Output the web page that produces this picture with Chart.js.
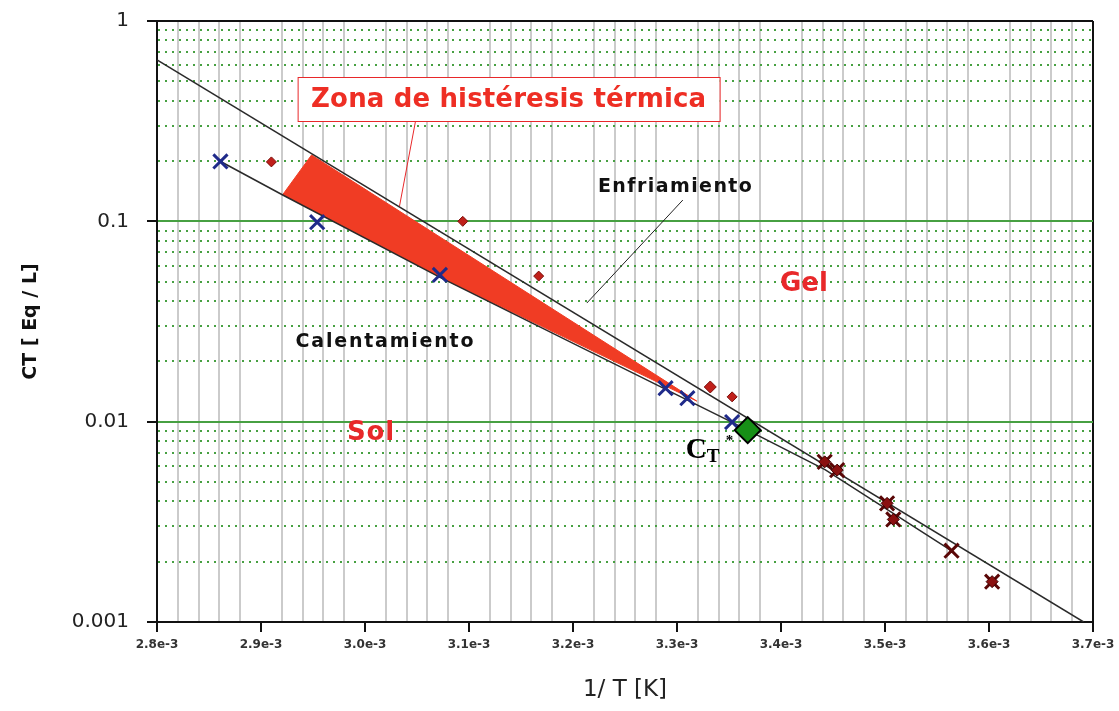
<!DOCTYPE html>
<html>
<head>
<meta charset="utf-8">
<script src="https://cdn.jsdelivr.net/npm/chart.js@4.4.1/dist/chart.umd.min.js"></script>
<style>
  html, body { margin: 0; padding: 0; background: #fff; }
  #wrap { width: 1119px; height: 711px; position: relative; }
</style>
</head>
<body>
<div id="wrap"><canvas id="chart"></canvas></div>
<script>
// heating run (blue crosses)
const heatX = [2.861e-3, 2.954e-3, 3.072e-3, 3.289e-3, 3.310e-3, 3.353e-3];
const heatY = [0.199, 0.099, 0.054, 0.0147, 0.0131, 0.00995];

// cooling run (red diamonds)
const coolX = [2.910e-3, 3.094e-3, 3.167e-3, 3.332e-3, 3.353e-3];
const coolY = [0.198, 0.100, 0.0533, 0.0149, 0.0133];

// points past the transition, both runs overlap
const lowX = [3.442e-3, 3.454e-3, 3.502e-3, 3.508e-3, 3.564e-3, 3.603e-3];
const lowY = [0.0063, 0.00573, 0.00391, 0.00325, 0.00227, 0.00159];

// critical point C_T*
const critX = [3.368e-3];
const critY = [0.00907];

// cooling fit line
const coolLineX = [2.8e-3, 3.691e-3];
const coolLineY = [0.639, 0.001];

// heating fit line
const heatLineX = [2.8616e-3, 2.9209e-3, 3.0717e-3, 3.3527e-3, 3.4423e-3, 3.5645e-3];
const heatLineY = [0.1984, 0.1353, 0.0527, 0.00995, 0.00576, 0.00226];

// hysteresis band outline
const bandX = [2.9206e-3, 2.9486e-3, 3.319e-3, 3.0717e-3];
const bandY = [0.1353, 0.2143, 0.01267, 0.0527];

// axis ticks
const xTickValues = [2.8e-3, 2.9e-3, 3.0e-3, 3.1e-3, 3.2e-3, 3.3e-3, 3.4e-3, 3.5e-3, 3.6e-3, 3.7e-3];
const xTickLabels = ["2.8e-3", "2.9e-3", "3.0e-3", "3.1e-3", "3.2e-3", "3.3e-3", "3.4e-3", "3.5e-3", "3.6e-3", "3.7e-3"];
const yTickValues = [0.001, 0.01, 0.1, 1];
const yTickLabels = ["0.001", "0.01", "0.1", "1"];

// text notes placed in data coordinates
const notes = [
  { text: "Enfriamiento", x: 3.298e-3, y: 0.1483, width: 154, size: 19, color: "#111" },
  { text: "Calentamiento", x: 3.0188e-3, y: 0.02496, width: 178, size: 19, color: "#111" },
  { text: "Gel", x: 3.422e-3, y: 0.0486, width: 48, size: 26, color: "#e8282a" },
  { text: "Sol", x: 3.0054e-3, y: 0.00877, width: 47, size: 26, color: "#e8282a" },
];

const zip = (xs, ys) => xs.map((x, i) => ({ x: x, y: ys[i] }));

const near = (a, b) => Math.abs(a - b) < Math.abs(b) * 1e-6;
const xMajor = (v) => xTickValues.findIndex((t) => near(v, t));
const yMajor = (v) => yTickValues.findIndex((t) => near(v, t));

// minor grid every 0.02e-3 on x, 1..9 per decade on y
const xGrid = [];
for (let i = 0; i <= 45; i++) xGrid.push(Number((2.8e-3 + i * 2e-5).toPrecision(6)));
const yGrid = [];
for (let e = -3; e < 0; e++) {
  for (let m = 1; m <= 9; m++) yGrid.push(Number((m * Math.pow(10, e)).toPrecision(3)));
}
yGrid.push(1);

function fitText(ctx, text, cx, cy, width, font) {
  ctx.font = font;
  ctx.letterSpacing = "0px";
  const w = ctx.measureText(text).width;
  const gap = text.length > 1 ? (width - w) / (text.length - 1) : 0;
  ctx.letterSpacing = gap + "px";
  ctx.textAlign = "left";
  ctx.textBaseline = "middle";
  ctx.fillText(text, cx - width / 2, cy);
  ctx.letterSpacing = "0px";
}

const notesPlugin = {
  id: "notes",
  afterDatasetsDraw(chart) {
    const { ctx, scales } = chart;
    const px = (v) => scales.x.getPixelForValue(v);
    const py = (v) => scales.y.getPixelForValue(v);
    ctx.save();

    // leader for the cooling label
    ctx.strokeStyle = "#222";
    ctx.lineWidth = 1;
    ctx.beginPath();
    ctx.moveTo(px(3.2133e-3), py(0.0391));
    ctx.lineTo(px(3.3056e-3), py(0.1277));
    ctx.stroke();

    // leader for the hysteresis box
    ctx.strokeStyle = "#e8282a";
    ctx.beginPath();
    ctx.moveTo(px(3.0486e-3), py(0.3167));
    ctx.lineTo(px(3.0332e-3), py(0.1192));
    ctx.stroke();

    // hysteresis box
    const bx = px(3.1381e-3), by = py(0.408);
    ctx.fillStyle = "#fff";
    ctx.fillRect(bx - 211, by - 22, 422, 44);
    ctx.strokeStyle = "#e8282a";
    ctx.lineWidth = 1;
    ctx.strokeRect(bx - 211 + 0.5, by - 22 + 0.5, 422, 44);
    ctx.fillStyle = "#ee2e24";
    fitText(ctx, "Zona de histéresis térmica", bx, by + 1, 395, "bold 26px 'DejaVu Sans'");

    notes.forEach((n) => {
      ctx.fillStyle = n.color;
      fitText(ctx, n.text, px(n.x), py(n.y), n.width, "bold " + n.size + "px 'DejaVu Sans'");
    });

    // C_T* label
    const cx = px(3.3085e-3), cy = py(0.00658);
    ctx.fillStyle = "#000";
    ctx.textAlign = "left";
    ctx.textBaseline = "alphabetic";
    ctx.font = "bold 29px 'Liberation Serif'";
    ctx.fillText("C", cx, cy);
    ctx.font = "bold 19px 'Liberation Serif'";
    ctx.fillText("T", cx + 21, cy + 4);
    ctx.font = "bold 15px 'Liberation Serif'";
    ctx.fillText("*", cx + 40, cy - 13);

    ctx.restore();
  },
};

new Chart(document.getElementById("chart"), {
  type: "scatter",
  data: {
    datasets: [
      {
        label: "C_T*",
        data: zip(critX, critY),
        pointStyle: "rectRot",
        pointRadius: 13,
        backgroundColor: "#178f17",
        borderColor: "#000",
        borderWidth: 2,
        order: 0,
      },
      {
        label: "Calentamiento",
        data: zip(heatX, heatY),
        pointStyle: "crossRot",
        pointRadius: 10,
        borderColor: "#1f2a8a",
        borderWidth: 3,
        order: 1,
      },
      {
        label: "Enfriamiento",
        data: zip(coolX, coolY),
        pointStyle: "rectRot",
        pointRadius: [5, 5, 5, 6, 5],
        backgroundColor: "#c0201a",
        borderColor: "#7a0c08",
        borderWidth: 1,
        order: 1,
      },
      {
        label: "Gel diamonds",
        data: zip(lowX, lowY),
        pointStyle: "rectRot",
        pointRadius: [6, 6, 6, 6, 0, 6],
        backgroundColor: "#8a1010",
        borderColor: "#3a0000",
        borderWidth: 1,
        order: 2,
      },
      {
        label: "Gel crosses",
        data: zip(lowX, lowY),
        pointStyle: "crossRot",
        pointRadius: 10,
        borderColor: "#5a0606",
        borderWidth: 3,
        order: 3,
      },
      {
        label: "Ajuste enfriamiento",
        data: zip(coolLineX, coolLineY),
        showLine: true,
        borderColor: "#2a2a2a",
        borderWidth: 1.5,
        pointRadius: 0,
        order: 5,
      },
      {
        label: "Ajuste calentamiento",
        data: zip(heatLineX, heatLineY),
        showLine: true,
        borderColor: "#2a2a2a",
        borderWidth: 1.5,
        pointRadius: 0,
        order: 5,
      },
      {
        label: "Zona de histéresis",
        data: zip(bandX, bandY),
        showLine: true,
        fill: "shape",
        backgroundColor: "#f03c24",
        borderColor: "#f03c24",
        borderWidth: 1,
        pointRadius: 0,
        order: 10,
      },
    ],
  },
  options: {
    responsive: true,
    maintainAspectRatio: false,
    animation: false,
    layout: { padding: { top: 21, right: 26, left: 0, bottom: 0 } },
    plugins: { legend: { display: false }, tooltip: { enabled: false } },
    scales: {
      x: {
        type: "linear",
        min: 2.8e-3,
        max: 3.7e-3,
        afterBuildTicks: (s) => { s.ticks = xGrid.map((v) => ({ value: v })); },
        afterFit: (s) => { s.height = 89; s.paddingLeft = 0; s.paddingRight = 0; },
        ticks: {
          autoSkip: false,
          maxRotation: 0,
          padding: 6,
          color: "#333",
          font: { family: "DejaVu Sans", size: 12, weight: "bold" },
          callback: (v) => { const k = xMajor(v); return k < 0 ? "" : xTickLabels[k]; },
        },
        grid: {
          color: (c) => {
            if (!c.tick) return "#c8c8c8";
            if (near(c.tick.value, 3.7e-3)) return "#111";
            return xMajor(c.tick.value) >= 0 ? "rgba(0,0,0,0)" : "#cbcbcb";
          },
          lineWidth: 2,
          tickLength: 10,
          tickWidth: 2,
          tickBorderDash: [],
          tickColor: (c) => (c.tick && xMajor(c.tick.value) >= 0 ? "#111" : "rgba(0,0,0,0)"),
        },
        border: { color: "#111", width: 2 },
        title: {
          display: true,
          text: "1/ T [K]",
          color: "#222",
          font: { family: "DejaVu Sans", size: 23 },
          padding: { top: 0, bottom: 7 },
        },
      },
      y: {
        type: "logarithmic",
        min: 0.001,
        max: 1,
        afterBuildTicks: (s) => { s.ticks = yGrid.map((v) => ({ value: v })); },
        afterFit: (s) => { s.width = 157; s.paddingTop = 0; s.paddingBottom = 0; },
        ticks: {
          autoSkip: false,
          padding: 18,
          color: "#222",
          font: { family: "DejaVu Sans", size: 20 },
          callback: (v) => { const k = yMajor(v); return k < 0 ? "" : yTickLabels[k]; },
        },
        grid: {
          color: (c) => {
            if (!c.tick) return "#4a9e44";
            if (near(c.tick.value, 1)) return "#111";
            return "#47a042";
          },
          lineWidth: 2,
          tickLength: 10,
          tickWidth: 2,
          tickBorderDash: [],
          tickColor: (c) => (c.tick && yMajor(c.tick.value) >= 0 ? "#111" : "rgba(0,0,0,0)"),
        },
        border: {
          color: "#111",
          width: 2,
          dash: (c) => (c.tick && yMajor(c.tick.value) < 0 ? [2, 5] : []),
        },
        title: {
          display: true,
          text: "CT [ Eq / L]",
          color: "#111",
          font: { family: "DejaVu Sans", size: 19, weight: "bold" },
          padding: { top: 20, bottom: 0 },
        },
      },
    },
  },
  plugins: [notesPlugin],
});
</script>
</body>
</html>
